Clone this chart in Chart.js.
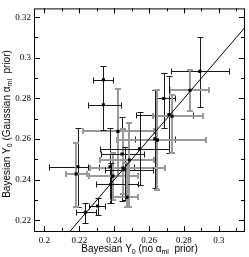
<!DOCTYPE html>
<html>
<head>
<meta charset="utf-8">
<script src="https://cdn.jsdelivr.net/npm/chart.js@4.4.1/dist/chart.umd.min.js"></script>
<style>
    html, body { margin: 0; padding: 0; background: #fff; }
    #wrap { width: 249px; height: 257px; }
</style>
</head>
<body>
<div id="wrap"><canvas id="yChart"></canvas></div>
<script>
// Y0 without alpha_ml prior (x) and with the Gaussian prior (y)
const yNoPrior = [0.2891, 0.2835, 0.2684, 0.2714, 0.2731, 0.2633, 0.2648, 0.2421, 0.2338, 0.2338, 0.2192, 0.2182,
                  0.2235, 0.2305, 0.2376, 0.2393, 0.2445, 0.2450, 0.2460, 0.2487, 0.2545, 0.2380, 0.2474];
const yGauss   = [0.2933, 0.2840, 0.2800, 0.2721, 0.2713, 0.2601, 0.2595, 0.2638, 0.2892, 0.2769, 0.2464, 0.2429,
                  0.2240, 0.2271, 0.2464, 0.2418, 0.2527, 0.2458, 0.2450, 0.2497, 0.2552, 0.2377, 0.2314];
const xLow  = [0.2724, 0.2720, 0.2648, 0.2524, 0.2620, 0.2520, 0.2417, 0.2220, 0.2280, 0.2250, 0.2028, 0.2126,
               0.2182, 0.2258, 0.2248, 0.2255, 0.2323, 0.2260, 0.2350, 0.2320, 0.2320, 0.2295, 0.2395];
const xHigh = [0.3056, 0.2942, 0.2746, 0.2850, 0.2912, 0.2750, 0.2929, 0.2630, 0.2395, 0.2441, 0.2314, 0.2242,
               0.2295, 0.2348, 0.2511, 0.2539, 0.2573, 0.2690, 0.2620, 0.2628, 0.2714, 0.2536, 0.2539];
const yLow  = [0.2759, 0.2737, 0.2655, 0.2532, 0.2532, 0.2358, 0.2350, 0.2420, 0.2769, 0.2645, 0.2266, 0.2266,
               0.2187, 0.2227, 0.2287, 0.2300, 0.2295, 0.2330, 0.2300, 0.2266, 0.2374, 0.2287, 0.2266];
const yHigh = [0.3104, 0.2942, 0.2927, 0.2908, 0.2816, 0.2840, 0.2840, 0.2848, 0.2961, 0.2892, 0.2655, 0.2582,
               0.2287, 0.2311, 0.2655, 0.2530, 0.2710, 0.2650, 0.2560, 0.2680, 0.2734, 0.2482, 0.2480];
// 'k' = thin black bars, 'g' = thick grey bars
const barStyle = ['k', 'g', 'k', 'k', 'g', 'k', 'g', 'g', 'k', 'k', 'k', 'g',
                  'k', 'k', 'k', 'g', 'k', 'g', 'k', 'g', 'k', 'k', 'g'];
const diagonal = [0.19, 0.33];
const xRange = [0.194, 0.315];
const yRange = [0.2143, 0.3243];

const points = yNoPrior.map((v, i) => ({ x: v, y: yGauss[i] }));

const errorBars = {
    id: 'errorBars',
    beforeDatasetsDraw(chart) {
        const c = chart.ctx, xs = chart.scales.x, ys = chart.scales.y;
        const a = chart.chartArea;
        c.save();
        c.beginPath();
        c.rect(a.left, a.top, a.right - a.left, a.bottom - a.top);
        c.clip();
        points.forEach((p, i) => {
            const grey = barStyle[i] === 'g';
            c.strokeStyle = grey ? '#9a9a9a' : '#1a1a1a';
            c.lineWidth = grey ? 2 : 1;
            const off = grey ? 0 : 0.5;
            const px = Math.round(xs.getPixelForValue(p.x)) + off;
            const py = Math.round(ys.getPixelForValue(p.y)) + off;
            const x0 = Math.round(xs.getPixelForValue(xLow[i])) + off;
            const x1 = Math.round(xs.getPixelForValue(xHigh[i])) + off;
            const y0 = Math.round(ys.getPixelForValue(yLow[i])) + off;
            const y1 = Math.round(ys.getPixelForValue(yHigh[i])) + off;
            const cap = 3;
            c.beginPath();
            c.moveTo(x0, py); c.lineTo(x1, py);
            c.moveTo(x0, py - cap); c.lineTo(x0, py + cap);
            c.moveTo(x1, py - cap); c.lineTo(x1, py + cap);
            c.moveTo(px, y0); c.lineTo(px, y1);
            c.moveTo(px - cap, y0); c.lineTo(px + cap, y0);
            c.moveTo(px - cap, y1); c.lineTo(px + cap, y1);
            c.stroke();
        });
        c.restore();
    }
};

function drawLabel(c, parts, size) {
    let w = 0;
    parts.forEach(p => {
        c.font = (p.sub ? size * 0.7 : size) + 'px "Liberation Sans", Arial, sans-serif';
        p.w = c.measureText(p.t).width;
        w += p.w;
    });
    let x = -w / 2;
    parts.forEach(p => {
        c.font = (p.sub ? size * 0.7 : size) + 'px "Liberation Sans", Arial, sans-serif';
        c.fillText(p.t, x, p.sub ? size * 0.3 : 0);
        x += p.w;
    });
}

const frameAndTicks = {
    id: 'frameAndTicks',
    afterDraw(chart) {
        const c = chart.ctx, xs = chart.scales.x, ys = chart.scales.y;
        const a = chart.chartArea;
        c.save();
        c.strokeStyle = '#000';
        c.lineWidth = 1;
        c.strokeRect(a.left + 0.5, a.top + 0.5, a.right - a.left - 1, a.bottom - a.top - 1);
        c.beginPath();
        for (let k = 20; k <= 31; k++) {
            const px = Math.round(xs.getPixelForValue(k / 100)) + 0.5;
            const len = k % 2 === 0 ? 6 : 4;
            c.moveTo(px, a.bottom); c.lineTo(px, a.bottom - len);
            c.moveTo(px, a.top); c.lineTo(px, a.top + len - 1);
        }
        for (let k = 22; k <= 32; k++) {
            const py = Math.round(ys.getPixelForValue(k / 100)) + 0.5;
            const len = k % 2 === 0 ? 6 : 4;
            c.moveTo(a.left, py); c.lineTo(a.left + len, py);
            c.moveTo(a.right, py); c.lineTo(a.right - len, py);
        }
        c.stroke();

        c.fillStyle = '#000';
        c.textBaseline = 'middle';
        c.save();
        c.translate((a.left + a.right) / 2, 249);
        drawLabel(c, [{ t: 'Bayesian Y' }, { t: '0', sub: true }, { t: ' (no ' }, { t: 'α' },
                      { t: 'ml', sub: true }, { t: '  prior)' }], 10);
        c.restore();
        c.save();
        c.translate(7, 124);
        c.rotate(-Math.PI / 2);
        drawLabel(c, [{ t: 'Bayesian Y' }, { t: '0', sub: true }, { t: ' (Gaussian ' }, { t: 'α' },
                      { t: 'ml', sub: true }, { t: '  prior)' }], 10);
        c.restore();
        c.restore();
    }
};

const tickFont = { family: '"Liberation Serif", "Times New Roman", serif', size: 9 };
const shortLabel = v => String(parseFloat(v.toFixed(2)));

new Chart(document.getElementById('yChart').getContext('2d'), {
    type: 'scatter',
    data: {
        datasets: [{
            data: points,
            pointStyle: 'rect',
            pointRadius: 2.2,
            backgroundColor: '#000',
            borderWidth: 0
        }, {
            data: diagonal.map(v => ({ x: v, y: v })),
            showLine: true,
            borderColor: '#000',
            borderWidth: 1,
            pointRadius: 0
        }]
    },
    options: {
        responsive: true,
        maintainAspectRatio: false,
        animation: false,
        layout: { padding: { top: 0, right: 1, bottom: 0, left: 0 } },
        plugins: { legend: { display: false }, tooltip: { enabled: false } },
        scales: {
            x: {
                type: 'linear',
                min: xRange[0],
                max: xRange[1],
                grid: { display: false, drawTicks: false },
                border: { display: false },
                ticks: { stepSize: 0.02, includeBounds: false, padding: 3, color: '#000', font: tickFont,
                         maxRotation: 0, callback: shortLabel },
                afterFit(s) { s.height = 25; }
            },
            y: {
                type: 'linear',
                min: yRange[0],
                max: yRange[1],
                grid: { display: false, drawTicks: false },
                border: { display: false },
                ticks: { stepSize: 0.02, includeBounds: false, padding: 3, color: '#000', font: tickFont,
                         callback: shortLabel },
                afterFit(s) { s.width = 34; }
            }
        }
    },
    plugins: [errorBars, frameAndTicks]
});
</script>
</body>
</html>
